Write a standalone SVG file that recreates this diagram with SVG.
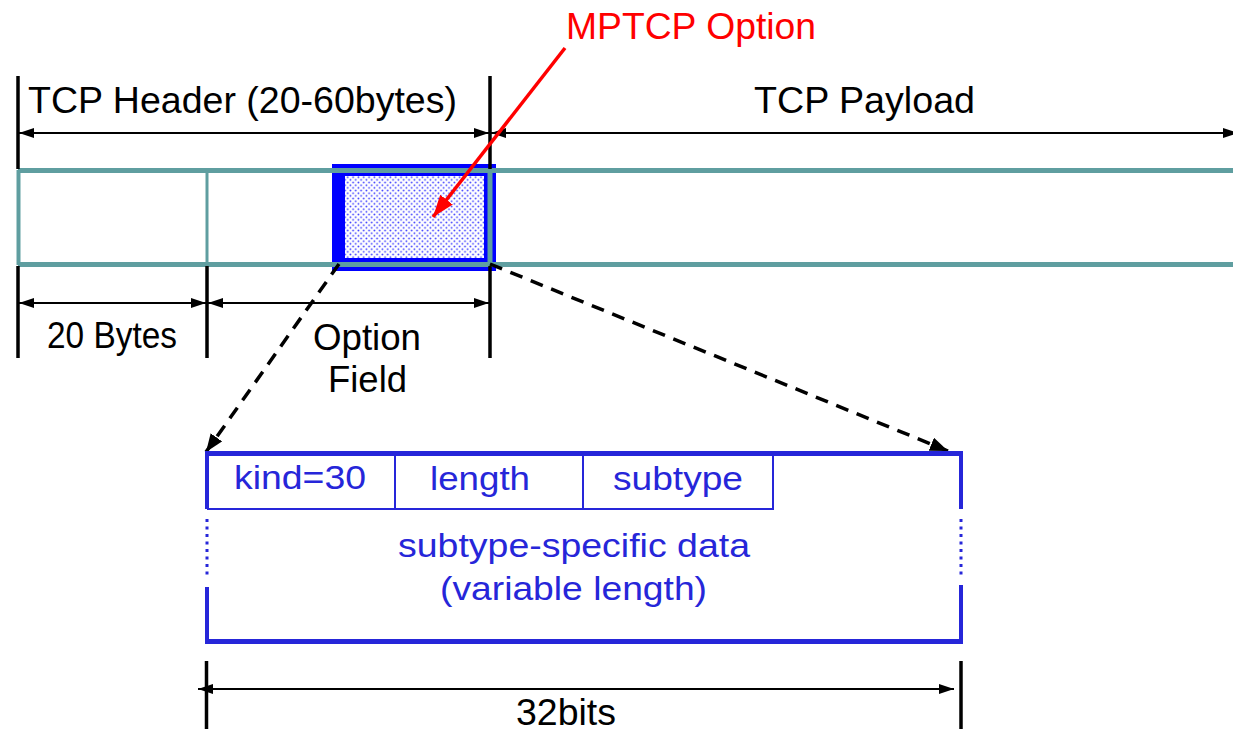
<svg xmlns="http://www.w3.org/2000/svg" width="1233" height="729" viewBox="0 0 1233 729">
  <style>
    .lbl { font-family: "Liberation Sans", Arial, sans-serif; fill: #000; font-size: 36px; }
    .blu { font-family: "Liberation Sans", Arial, sans-serif; fill: #2626D9; font-size: 34px; }
    .tick { stroke: #000; stroke-width: 3.5; }
    .dim { stroke: #000; stroke-width: 2; fill: none; }
    .band { stroke: #5F9EA0; fill: none; }
    .dash { stroke: #000; stroke-width: 3.5; stroke-dasharray: 13 9; fill: none; }
    .edge { stroke: #2626D9; fill: none; }
  </style>
  <defs>
    <marker id="dimHead" viewBox="0 0 15 10" refX="15" refY="5" markerWidth="15" markerHeight="10" markerUnits="userSpaceOnUse" orient="auto-start-reverse">
      <path d="M0,0 L15,5 L0,10 Z" fill="#000"/>
    </marker>
    <marker id="dashHead" viewBox="0 0 18 14" refX="18" refY="7" markerWidth="18" markerHeight="14" markerUnits="userSpaceOnUse" orient="auto">
      <path d="M0,0 L18,7 L0,14 Z" fill="#000"/>
    </marker>
    <marker id="redHead" viewBox="0 0 22 16" refX="22" refY="8" markerWidth="22" markerHeight="16" markerUnits="userSpaceOnUse" orient="auto">
      <path d="M0,0 L22,8 L0,16 Z" fill="#FF0000"/>
    </marker>
    <pattern id="dots" patternUnits="userSpaceOnUse" width="5.33" height="5.33">
      <rect width="5.33" height="5.33" fill="#fff"/>
      <circle cx="1.3" cy="1.3" r="0.9" fill="#3C3CFF"/>
      <circle cx="3.97" cy="3.97" r="0.9" fill="#3C3CFF"/>
    </pattern>
  </defs>

  <!-- header / payload labels -->
  <text class="lbl" x="28" y="113" textLength="429" lengthAdjust="spacingAndGlyphs">TCP Header (20-60bytes)</text>
  <text class="lbl" x="754" y="113" textLength="221" lengthAdjust="spacingAndGlyphs">TCP Payload</text>
  <text x="566" y="39" font-family="Liberation Sans, Arial, sans-serif" font-size="36" fill="#FF0000" textLength="250" lengthAdjust="spacingAndGlyphs">MPTCP Option</text>

  <!-- MPTCP option block inside the option field -->
  <g id="mptcp-option">
    <rect x="332" y="164" width="164" height="107" fill="#0000FF"/>
    <rect x="345" y="176" width="139" height="82" fill="url(#dots)"/>
  </g>

  <!-- TCP segment band -->
  <g id="segment">
    <line class="band" x1="18" y1="170.5" x2="1233" y2="170.5" stroke-width="5"/>
    <line class="band" x1="18" y1="264.5" x2="1233" y2="264.5" stroke-width="5"/>
    <line class="band" x1="18.5" y1="170" x2="18.5" y2="265" stroke-width="4"/>
    <line class="band" x1="207" y1="170" x2="207" y2="265" stroke-width="3"/>
    <line class="band" x1="490" y1="170" x2="490" y2="265" stroke-width="5"/>
  </g>

  <!-- dimension ticks and arrows -->
  <g id="dimensions">
    <line class="tick" x1="18" y1="76" x2="18" y2="169"/>
    <line class="tick" x1="490" y1="76" x2="490" y2="169"/>
    <line class="tick" x1="18" y1="266" x2="18" y2="358"/>
    <line class="tick" x1="207" y1="266" x2="207" y2="358"/>
    <line class="tick" x1="490" y1="266" x2="490" y2="358"/>
    <line class="dim" x1="19" y1="133" x2="489" y2="133" marker-start="url(#dimHead)" marker-end="url(#dimHead)"/>
    <line class="dim" x1="491" y1="133" x2="1238" y2="133" marker-start="url(#dimHead)" marker-end="url(#dimHead)"/>
    <line class="dim" x1="19" y1="303" x2="206" y2="303" marker-start="url(#dimHead)" marker-end="url(#dimHead)"/>
    <line class="dim" x1="208" y1="303" x2="489" y2="303" marker-start="url(#dimHead)" marker-end="url(#dimHead)"/>
    <line class="tick" x1="206.5" y1="661" x2="206.5" y2="729"/>
    <line class="tick" x1="961" y1="661" x2="961" y2="729"/>
    <line class="dim" x1="198" y1="689" x2="954" y2="689" marker-start="url(#dimHead)" marker-end="url(#dimHead)"/>
  </g>
  <text class="lbl" x="47" y="348" font-size="32" textLength="130" lengthAdjust="spacingAndGlyphs">20 Bytes</text>
  <text class="lbl" x="313" y="350" textLength="108" lengthAdjust="spacingAndGlyphs">Option</text>
  <text class="lbl" x="328" y="392" textLength="79" lengthAdjust="spacingAndGlyphs">Field</text>
  <text class="lbl" x="516" y="725" textLength="100" lengthAdjust="spacingAndGlyphs">32bits</text>

  <!-- connectors -->
  <g id="connectors">
    <line x1="565" y1="48" x2="433" y2="217" stroke="#FF0000" stroke-width="3.5" marker-end="url(#redHead)"/>
    <line class="dash" x1="339" y1="264" x2="206" y2="452" marker-end="url(#dashHead)"/>
    <line class="dash" x1="490" y1="264" x2="948" y2="451" marker-end="url(#dashHead)"/>
  </g>

  <!-- option layout -->
  <g id="option-format">
    <line class="edge" x1="205" y1="453.5" x2="963" y2="453.5" stroke-width="5"/>
    <line class="edge" x1="207" y1="452" x2="207" y2="509" stroke-width="4"/>
    <line class="edge" x1="961" y1="452" x2="961" y2="509" stroke-width="4"/>
    <line class="edge" x1="207" y1="519" x2="207" y2="576" stroke-width="3" stroke-dasharray="3 4.5"/>
    <line class="edge" x1="961" y1="519" x2="961" y2="576" stroke-width="3" stroke-dasharray="3 4.5"/>
    <line class="edge" x1="207" y1="587" x2="207" y2="643" stroke-width="4"/>
    <line class="edge" x1="961" y1="585" x2="961" y2="643" stroke-width="4"/>
    <line class="edge" x1="205" y1="641.5" x2="963" y2="641.5" stroke-width="5"/>
    <line class="edge" x1="207" y1="509" x2="774" y2="509" stroke-width="2"/>
    <line class="edge" x1="395" y1="455" x2="395" y2="509" stroke-width="2"/>
    <line class="edge" x1="583" y1="455" x2="583" y2="509" stroke-width="2"/>
    <line class="edge" x1="773" y1="455" x2="773" y2="509" stroke-width="2"/>
  </g>
  <g id="field-kind"><text class="blu" x="234" y="489" textLength="132" lengthAdjust="spacingAndGlyphs">kind=30</text></g>
  <g id="field-length"><text class="blu" x="430" y="490" textLength="100" lengthAdjust="spacingAndGlyphs">length</text></g>
  <g id="field-subtype"><text class="blu" x="613" y="490" textLength="130" lengthAdjust="spacingAndGlyphs">subtype</text></g>
  <g id="field-data">
    <text class="blu" x="398" y="557" textLength="352" lengthAdjust="spacingAndGlyphs">subtype-specific data</text>
    <text class="blu" x="440" y="600" textLength="267" lengthAdjust="spacingAndGlyphs">(variable length)</text>
  </g>
</svg>
